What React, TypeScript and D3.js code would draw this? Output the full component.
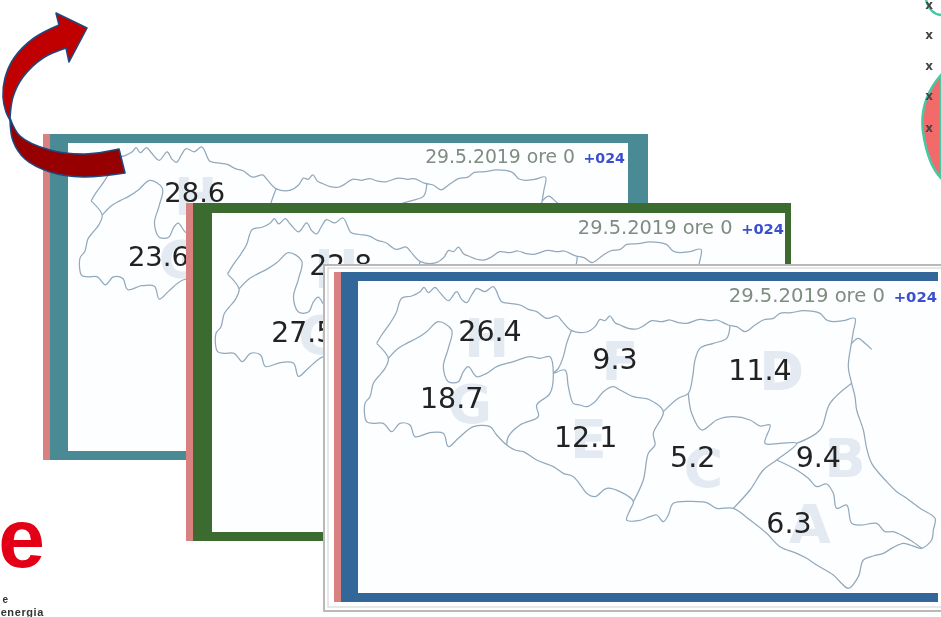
import * as d3 from 'd3'

type Pt = [number, number]

// zones of the map, in the order the values are listed
const zones = ['H', 'F', 'D', 'G', 'E', 'C', 'B', 'A']
const tealValues = [28.6, null, null, 23.6, null, null, null, null]
const greenValues = [22.8, null, null, 27.5, null, null, null, null]
const blueValues = [26.4, 9.3, 11.4, 18.7, 12.1, 5.2, 9.4, 6.3]
const dateLabel = '29.5.2019 ore 0'
const runLabel = '+024'

// map grid coordinates
const valueAnchors: Pt[] = [[510, 212], [885, 297], [1320, 330], [395, 415], [797, 532], [1118, 590], [1495, 590], [1407, 790]]
const zoneAnchors: Pt[] = [[500, 230], [900, 300], [1385, 330], [450, 430], [805, 535], [1150, 620], [1575, 590], [1470, 790]]

const outerBorder: Pt[] = [
  [170, 250], [185, 225], [210, 190], [228, 160], [245, 115], [275, 108], [300, 95], [312, 82], [325, 98], [345, 82], [360, 98], [385, 122],
  [410, 95], [425, 118], [440, 128], [455, 105], [470, 85], [495, 95], [520, 80], [545, 125], [570, 130], [600, 135], [625, 148], [650, 155],
  [680, 175], [712, 168], [725, 182], [755, 212], [800, 216], [825, 200], [840, 178], [855, 182], [870, 168], [885, 188], [900, 195], [925, 205],
  [950, 207], [970, 198], [995, 182], [1025, 185], [1050, 180], [1075, 188], [1100, 190], [1140, 178], [1170, 182], [1190, 180], [1225, 195],
  [1250, 200], [1275, 215], [1305, 195], [1330, 180], [1360, 175], [1380, 160], [1415, 158], [1450, 152], [1500, 160], [1520, 180], [1540, 185],
  [1570, 182], [1605, 175], [1600, 215], [1595, 245], [1585, 320], [1595, 370], [1605, 410], [1610, 450], [1630, 510], [1640, 565], [1655, 610],
  [1700, 665], [1730, 695], [1760, 715], [1800, 745], [1845, 775], [1840, 810], [1835, 840], [1805, 865], [1785, 860], [1770, 855], [1750, 850],
  [1720, 862], [1690, 880], [1660, 888], [1630, 900], [1615, 950], [1585, 985], [1560, 965], [1540, 945], [1490, 915], [1460, 895], [1430, 880],
  [1380, 860], [1340, 820], [1290, 780], [1240, 745], [1190, 745], [1160, 728], [1130, 725], [1060, 730], [1045, 765], [1030, 785], [1010, 765], [990, 770],
  [955, 782], [920, 780], [930, 750], [940, 725], [900, 695], [860, 685], [825, 710], [800, 700], [785, 680], [760, 650], [730, 640], [700, 620],
  [650, 600], [610, 575], [585, 570], [560, 555], [530, 525], [510, 500], [460, 500], [415, 535], [385, 560], [370, 520], [330, 518], [285, 530],
  [270, 495], [240, 490], [215, 515], [190, 490], [160, 490], [140, 485], [135, 430], [150, 410], [160, 370], [175, 350], [195, 325], [205, 295], [170, 250],
]
const northLobe: Pt[] = [
  [205, 295], [235, 265], [260, 250], [290, 235], [320, 215], [355, 185], [395, 210], [385, 265], [370, 320], [385, 365], [415, 365], [430, 335], [445, 320],
  [470, 350], [500, 340], [530, 320], [580, 305], [630, 290], [660, 295], [690, 290], [700, 340], [690, 400], [650, 435], [655, 470], [600, 495], [565, 530], [560, 555],
]
const centerWest: Pt[] = [
  [755, 210], [740, 250], [730, 290], [715, 325], [700, 340], [735, 330], [745, 380], [760, 430], [780, 435], [800, 440], [825, 425], [850, 395], [880, 380],
  [900, 390], [940, 410], [990, 420], [1030, 455], [1000, 520], [1005, 555], [985, 580], [970, 660], [940, 725],
]
const centerNorth: Pt[] = [
  [1030, 455], [1075, 415], [1105, 400], [1118, 350], [1125, 300], [1140, 265], [1180, 250], [1220, 235], [1230, 195],
]
const centerEast: Pt[] = [
  [1105, 400], [1115, 460], [1145, 510], [1170, 495], [1190, 480], [1240, 470], [1290, 480], [1320, 498], [1350, 495], [1335, 550], [1380, 550], [1430, 550],
  [1370, 600], [1330, 630], [1290, 690], [1240, 745],
]
const coastLine: Pt[] = [[1430, 550], [1500, 510], [1530, 430], [1595, 370]]
const southEast: Pt[] = [
  [1370, 600], [1430, 630], [1465, 655], [1490, 680], [1520, 672], [1540, 700], [1550, 745], [1580, 735], [1595, 790], [1625, 795], [1670, 790], [1695, 815],
  [1720, 815], [1770, 840], [1805, 865],
]
const lagoon: Pt[] = [[1595, 250], [1615, 235], [1635, 250], [1655, 268]]
const borders = [outerBorder, northLobe, centerWest, centerNorth, centerEast, coastLine, southEast, lagoon]

// curved arrow, in page units
const arrowHead: Pt[] = [[66, 48], [69, 62], [87, 28], [56, 13], [59, 25]]
const arrowTopOuter: Pt[] = [[59, 25], [34, 38], [14, 58], [5, 78], [3, 97], [6, 112], [10, 120]]
const arrowTopInner: Pt[] = [[10, 118], [13, 97], [23, 77], [43, 58], [66, 48]]
const arrowLowInner: Pt[] = [[10, 118], [20, 136], [50, 150], [85, 154], [119, 149]]
const arrowLowOuter: Pt[] = [[125, 173], [83, 177], [50, 172], [25, 159], [13, 141], [10, 120]]
const crossRows = [5, 35, 66, 96, 128]

const straight = d3.line<Pt>()
const smooth = d3.line<Pt>().curve(d3.curveCatmullRom.alpha(0.5))
const chain = (parts: (string | null)[]) =>
  parts.map((d, i) => (i === 0 ? d ?? '' : (d ?? '').replace(/^M/, 'L'))).join('') + 'Z'

const sans = 'DejaVu Sans, Verdana, sans-serif'
const logoFont = 'Liberation Sans, Arial, sans-serif'

interface PanelProps {
  id: string
  x: number
  y: number
  right: number
  bottom: number
  color: string
  inner: [number, number, number, number]
  mapOrigin: Pt
  mapScale: number
  values: (number | null)[]
  labelShift: Pt
  dateY: number
  dateRight: number
  textScale: number
}

function Panel(p: PanelProps) {
  const [ix, iy, ir, ib] = p.inner
  const sx = d3.scaleLinear().domain([0, 3]).range([p.mapOrigin[0], p.mapOrigin[0] + p.mapScale])
  const sy = d3.scaleLinear().domain([0, 3]).range([p.mapOrigin[1], p.mapOrigin[1] + p.mapScale])
  const line = d3.line<Pt>().x(d => sx(d[0])).y(d => sy(d[1])).curve(d3.curveCatmullRom.alpha(0.5))
  return (
    <g>
      <rect x={p.x} y={p.y} width={p.right - p.x} height={p.bottom - p.y} fill={p.color} />
      <rect x={p.x} y={p.y} width={7} height={p.bottom - p.y} fill="#d98080" />
      <rect x={ix} y={iy} width={ir - ix} height={ib - iy} fill="#fdfeff" />
      <clipPath id={p.id}>
        <rect x={ix} y={iy} width={ir - ix} height={ib - iy} />
      </clipPath>
      <g clipPath={`url(#${p.id})`}>
        <g filter="url(#soft)">
          {zones.map((z, i) =>
            p.values[i] === null ? null : (
              <text key={z} x={sx(zoneAnchors[i][0])} y={sy(zoneAnchors[i][1]) + 20} textAnchor="middle" fontFamily={sans} fontWeight={700} fontSize={54 * p.mapScale} fill="#e3eaf2">
                {z}
              </text>
            ),
          )}
          {borders.map((b, i) => (
            <path key={i} d={line(b) ?? ''} fill="none" stroke="#93a9bb" strokeWidth={1.25} strokeLinejoin="round" />
          ))}
          {p.values.map((v, i) =>
            v === null ? null : (
              <text key={i} x={sx(valueAnchors[i][0]) + p.labelShift[0]} y={sy(valueAnchors[i][1]) + p.labelShift[1] + 10} textAnchor="middle" fontFamily={sans} fontSize={28.5 * p.textScale} fill="#222">
                {v.toFixed(1)}
              </text>
            ),
          )}
          <text x={p.dateRight - 52 * p.textScale} y={p.dateY} textAnchor="end" fontFamily={sans} fontSize={19.6 * p.textScale} fill="#7f8c80">
            {dateLabel}
          </text>
          <text x={p.dateRight} y={p.dateY} textAnchor="end" fontFamily={sans} fontWeight={700} fontSize={14.8 * p.textScale} fill="#3b50cc">
            {runLabel}
          </text>
        </g>
      </g>
    </g>
  )
}

export default function App() {
  const arrowUpper = chain([straight(arrowHead), smooth(arrowTopOuter), smooth(arrowTopInner)])
  const arrowLower = chain([smooth(arrowLowInner), smooth(arrowLowOuter)])
  return (
    <svg width={941} height={617} style={{ position: 'absolute', left: 0, top: 0, display: 'block', background: '#fff' }}>
      <defs>
        <filter id="soft" x="-5%" y="-5%" width="110%" height="110%">
          <feGaussianBlur stdDeviation="0.55" />
        </filter>
      </defs>

      {/* red zone and crosses, upper right */}
      <g filter="url(#soft)">
        <path d="M941,75 Q919,100 923,132 Q928,165 941,178 Z" fill="#f26b6b" stroke="#45c9a5" strokeWidth={2.5} />
        <path d="M926,0 Q930,14 941,15" fill="none" stroke="#45c9a5" strokeWidth={2.5} />
        {crossRows.map(y => (
          <text key={y} x={929} y={y + 4} textAnchor="middle" fontFamily={sans} fontSize={12} fontWeight={700} fill="#444">x</text>
        ))}
      </g>

      {/* logo */}
      <g filter="url(#soft)">
        <text x={45} y={567} textAnchor="end" fontFamily={logoFont} fontWeight={700} fontSize={84} fill="#e30613">e</text>
        <text x={8} y={603} textAnchor="end" fontFamily={logoFont} fontWeight={700} fontSize={10} fill="#333">e</text>
        <text x={44} y={616} textAnchor="end" fontFamily={logoFont} fontWeight={700} fontSize={11} letterSpacing={0.6} fill="#333">energia</text>
      </g>

      <Panel id="teal" x={43} y={134} right={648} bottom={460} color="#4a8a94" inner={[68, 143, 628, 451]}
        mapOrigin={[37.3, 121.7]} mapScale={0.95} values={tealValues} labelShift={[-4, 3]} dateY={163} dateRight={625} textScale={0.96} />
      <Panel id="green" x={186} y={203} right={791} bottom={541} color="#3b6b2e" inner={[212, 213, 785, 532]}
        mapOrigin={[171.4, 191.6]} mapScale={0.99} values={greenValues} labelShift={[1, 3]} dateY={234} dateRight={784} textScale={0.99} />

      {/* front panel with its white frame */}
      <rect x={324} y={265} width={630} height={346} fill="#fff" stroke="#b9b9b9" strokeWidth={2} />
      <rect x={328} y={268} width={620} height={339} fill="none" stroke="#d0d0d0" strokeWidth={1} />
      <Panel id="blue" x={334} y={272} right={938} bottom={602} color="#336699" inner={[358, 281, 938, 593]}
        mapOrigin={[320, 260]} mapScale={1} values={blueValues} labelShift={[0, 0]} dateY={302} dateRight={937} textScale={1} />
      <rect x={938} y={270} width={3} height={336} fill="#fff" />

      {/* curved arrow */}
      <path d={arrowLower} fill="#960000" stroke="#1f497d" strokeWidth={1.6} strokeLinejoin="round" />
      <path d={arrowUpper} fill="#c00000" stroke="#1f497d" strokeWidth={1.6} strokeLinejoin="round" />
    </svg>
  )
}
